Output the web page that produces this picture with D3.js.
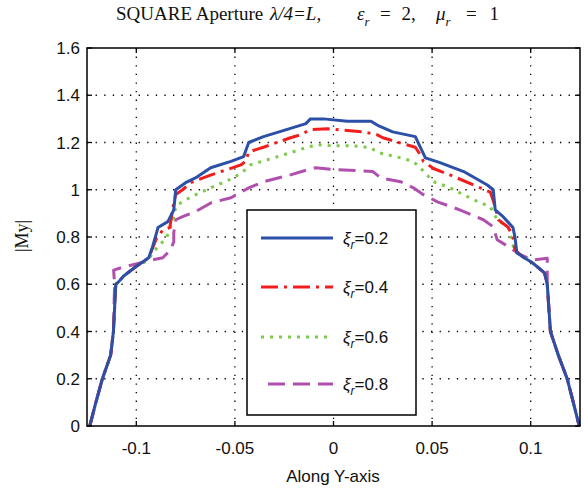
<!DOCTYPE html>
<html><head><meta charset="utf-8">
<script src="https://cdn.jsdelivr.net/npm/d3@7/dist/d3.min.js"></script>
<style>body{margin:0;background:#fff}svg{display:block}</style>
</head><body>
<svg id="c" width="584" height="490"></svg>
<script>
// ---- data ----
const xTicks = [-0.1, -0.05, 0, 0.05, 0.1];
const xTickLabels = ["-0.1", "-0.05", "0", "0.05", "0.1"];
const yTicks = [0, 0.2, 0.4, 0.6, 0.8, 1, 1.2, 1.4, 1.6];
const yTickLabels = ["0", "0.2", "0.4", "0.6", "0.8", "1", "1.2", "1.4", "1.6"];
const seriesNames = ["0.2", "0.4", "0.6", "0.8"];

const x02 = [-0.1236,-0.1205,-0.1172,-0.113,-0.1116,-0.1104,-0.109,-0.1064,-0.1003,-0.0937,-0.0917,-0.090,-0.089,-0.084,-0.081,-0.080,-0.075,-0.070,-0.0623,-0.052,-0.0456,-0.043,-0.0355,-0.0218,-0.014,-0.0117,-0.005,0.007,0.019,0.023,0.030,0.0415,0.044,0.0466,0.054,0.066,0.078,0.081,0.082,0.086,0.091,0.092,0.093,0.096,0.101,0.107,0.1084,0.110,0.114,0.1185,0.1216,0.1246];
const y02 = [0,0.1,0.2,0.3,0.4,0.6,0.61,0.635,0.674,0.712,0.76,0.81,0.84,0.865,0.915,1.0,1.03,1.05,1.093,1.12,1.14,1.20,1.225,1.26,1.28,1.30,1.30,1.29,1.29,1.27,1.245,1.225,1.18,1.135,1.115,1.077,1.02,1.0,0.915,0.886,0.84,0.80,0.733,0.716,0.69,0.648,0.6,0.4,0.3,0.2,0.1,0];

const x04 = [-0.1236,-0.1205,-0.1172,-0.113,-0.1116,-0.1104,-0.109,-0.1064,-0.1003,-0.0937,-0.090,-0.0865,-0.083,-0.081,-0.080,-0.0765,-0.0724,-0.062,-0.047,-0.0446,-0.043,-0.0355,-0.0218,-0.0167,-0.0117,-0.003,0.015,0.022,0.025,0.033,0.0415,0.044,0.0456,0.0507,0.059,0.073,0.0795,0.082,0.0836,0.0887,0.091,0.092,0.096,0.101,0.107,0.1084,0.110,0.114,0.1185,0.1216,0.1246];
const y04 = [0,0.1,0.2,0.3,0.4,0.6,0.61,0.635,0.674,0.712,0.79,0.83,0.84,0.945,0.98,1.0,1.03,1.063,1.105,1.12,1.16,1.18,1.22,1.233,1.254,1.258,1.245,1.233,1.22,1.20,1.18,1.148,1.12,1.09,1.063,1.013,0.99,0.928,0.873,0.84,0.80,0.746,0.716,0.69,0.648,0.6,0.4,0.3,0.2,0.1,0];

const x06 = [-0.1236,-0.1205,-0.1172,-0.113,-0.1116,-0.1104,-0.109,-0.1064,-0.1003,-0.0937,-0.0917,-0.088,-0.085,-0.081,-0.080,-0.0765,-0.071,-0.061,-0.0507,-0.0446,-0.042,-0.0334,-0.0218,-0.0127,-0.0076,0,0.0096,0.0187,0.0228,0.034,0.0405,0.044,0.0507,0.0578,0.071,0.0795,0.083,0.0887,0.092,0.096,0.101,0.107,0.1084,0.110,0.114,0.1185,0.1216,0.1246];
const y06 = [0,0.1,0.2,0.3,0.4,0.6,0.61,0.635,0.674,0.705,0.733,0.77,0.79,0.88,0.93,0.95,0.975,1.013,1.05,1.085,1.106,1.127,1.157,1.182,1.19,1.186,1.186,1.178,1.157,1.135,1.12,1.093,1.034,1.013,0.958,0.928,0.873,0.84,0.737,0.716,0.69,0.648,0.6,0.4,0.3,0.2,0.1,0];

const x08 = [-0.1236,-0.1205,-0.1172,-0.113,-0.1116,-0.1110,-0.1115,-0.106,-0.0917,-0.0866,-0.0826,-0.081,-0.081,-0.080,-0.0765,-0.070,-0.062,-0.052,-0.043,-0.0355,-0.0218,-0.013,-0.009,0,0.015,0.020,0.024,0.034,0.0405,0.0456,0.0527,0.064,0.076,0.081,0.083,0.0897,0.0947,0.101,0.1084,0.1084,0.1084,0.110,0.114,0.1185,0.1216,0.1246];
const y08 = [0,0.1,0.2,0.3,0.4,0.6,0.66,0.674,0.703,0.712,0.746,0.78,0.818,0.873,0.886,0.907,0.945,0.966,1.008,1.034,1.063,1.085,1.093,1.085,1.08,1.077,1.05,1.034,1.008,0.979,0.949,0.915,0.873,0.843,0.788,0.754,0.725,0.703,0.71,0.65,0.6,0.4,0.3,0.2,0.1,0];

// ---- layout ----
const L = 87, R = 580, T = 48, B = 426;
const svg = d3.select("#c");
const xS = d3.scaleLinear().domain([-0.125, 0.125]).range([L, R]);
const yS = d3.scaleLinear().domain([0, 1.6]).range([B, T]);

// grid
const g = svg.append("g");
g.selectAll(".gx").data(xTicks).enter().append("line")
  .attr("x1", d => xS(d)).attr("x2", d => xS(d)).attr("y1", T).attr("y2", B)
  .attr("stroke", "#000").attr("stroke-width", 1.3).attr("stroke-dasharray", "1.3,7.3");
g.selectAll(".gy").data(yTicks.slice(1, -1)).enter().append("line")
  .attr("x1", L).attr("x2", R).attr("y1", d => yS(d)).attr("y2", d => yS(d))
  .attr("stroke", "#000").attr("stroke-width", 1.3).attr("stroke-dasharray", "1.3,7.3");

// series
const series = [
  {name: seriesNames[0], xs: x02, ys: y02, color: "#2c4fa8", dash: null},
  {name: seriesNames[1], xs: x04, ys: y04, color: "#f21d1d", dash: "17,6,3,6"},
  {name: seriesNames[2], xs: x06, ys: y06, color: "#7ccb4a", dash: "3,6"},
  {name: seriesNames[3], xs: x08, ys: y08, color: "#b04fae", dash: "17,8"}
];
const line = d3.line().x(d => xS(d[0])).y(d => yS(d[1]));
series.slice().reverse().forEach(s => {
  const pts = s.xs.map((v, i) => [v, s.ys[i]]);
  svg.append("path").attr("d", line(pts)).attr("fill", "none")
    .attr("stroke", s.color).attr("stroke-width", 3)
    .attr("stroke-linejoin", "round")
    .attr("stroke-dasharray", s.dash);
});

// axes box & ticks (inward, all sides)
const ax = svg.append("g");
const tl = 5;
ax.append("rect").attr("x", L).attr("y", T).attr("width", R - L).attr("height", B - T)
  .attr("fill", "none").attr("stroke", "#000").attr("stroke-width", 1.5);
xTicks.forEach(d => {
  ax.append("line").attr("x1", xS(d)).attr("x2", xS(d)).attr("y1", B).attr("y2", B - tl).attr("stroke", "#000").attr("stroke-width", 1.3);
  ax.append("line").attr("x1", xS(d)).attr("x2", xS(d)).attr("y1", T).attr("y2", T + tl).attr("stroke", "#000").attr("stroke-width", 1.3);
});
yTicks.forEach(d => {
  ax.append("line").attr("x1", L).attr("x2", L + tl).attr("y1", yS(d)).attr("y2", yS(d)).attr("stroke", "#000").attr("stroke-width", 1.3);
  ax.append("line").attr("x1", R).attr("x2", R - tl).attr("y1", yS(d)).attr("y2", yS(d)).attr("stroke", "#000").attr("stroke-width", 1.3);
});
const sans = "Arial, 'Liberation Sans', Helvetica, sans-serif";
const serif = "'Times New Roman', 'Liberation Serif', serif";
ax.selectAll(".xl").data(xTicks).enter().append("text")
  .attr("x", d => xS(d)).attr("y", 454).attr("text-anchor", "middle")
  .attr("font-family", sans).attr("font-size", 17).attr("fill", "#111")
  .text((d, i) => xTickLabels[i]);
ax.selectAll(".yl").data(yTicks).enter().append("text")
  .attr("x", 80).attr("y", d => yS(d) + 6).attr("text-anchor", "end")
  .attr("font-family", sans).attr("font-size", 17).attr("fill", "#111")
  .text((d, i) => yTickLabels[i]);

svg.append("text").attr("x", 333).attr("y", 482).attr("text-anchor", "middle")
  .attr("font-family", sans).attr("font-size", 17).attr("fill", "#111").text("Along Y-axis");
svg.append("text").attr("transform", "translate(28,236) rotate(-90)").attr("text-anchor", "middle")
  .attr("font-family", serif).attr("font-size", 18).attr("fill", "#111").text("|My|");

// title
const tt = svg.append("text").attr("y", 20)
  .attr("font-family", serif).attr("font-size", 19).attr("fill", "#111");
tt.append("tspan").attr("x", 116).text("SQUARE Aperture");
tt.append("tspan").attr("x", 270).attr("font-style", "italic").text("λ/4=L,");
tt.append("tspan").attr("x", 357).attr("font-style", "italic").text("ε");
tt.append("tspan").attr("font-style", "italic").attr("font-size", 13).attr("dy", 6).text("r");
tt.append("tspan").attr("x", 380).attr("dy", -6).attr("word-spacing", 6).text("= 2,");
tt.append("tspan").attr("x", 436).attr("font-style", "italic").text("μ");
tt.append("tspan").attr("font-style", "italic").attr("font-size", 13).attr("dy", 6).text("r");
tt.append("tspan").attr("x", 466).attr("dy", -6).attr("word-spacing", 8).text("= 1");

// legend
const lg = svg.append("g");
lg.append("rect").attr("x", 247).attr("y", 210).attr("width", 169).attr("height", 205)
  .attr("fill", "#fff").attr("stroke", "#000").attr("stroke-width", 1.5);
const legY = [238, 287, 337, 384];
series.forEach((s, i) => {
  lg.append("line").attr("x1", i === 3 ? 268 : 261).attr("x2", 333).attr("y1", legY[i]).attr("y2", legY[i])
    .attr("stroke", s.color).attr("stroke-width", 3).attr("stroke-dasharray", s.dash);
  const t = lg.append("text").attr("x", 343).attr("y", legY[i] + 6)
    .attr("font-family", sans).attr("font-size", 17).attr("fill", "#111");
  t.append("tspan").attr("font-style", "italic").text("ξ");
  t.append("tspan").attr("font-style", "italic").attr("font-size", 12).attr("dy", 5).text("r");
  t.append("tspan").attr("dy", -5).text("=" + s.name);
});
</script>
</body></html>
